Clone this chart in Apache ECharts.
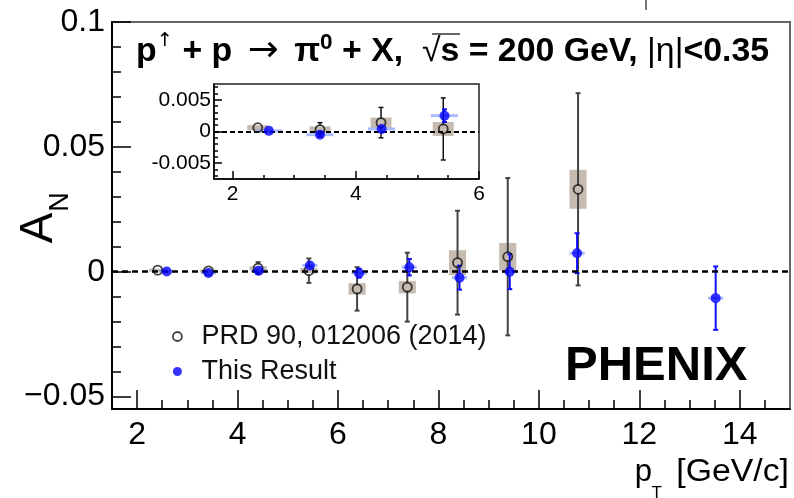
<!DOCTYPE html>
<html><head><meta charset="utf-8">
<script src="https://cdn.jsdelivr.net/npm/echarts@6/dist/echarts.min.js"></script>
<style>html,body{margin:0;padding:0;background:#fff}#c{width:794px;height:498px}</style>
</head><body><div id="c"></div>
<script>
// ---- data ----
const prdX    = [2.41, 3.42, 4.41, 5.42, 6.38, 7.38, 8.38, 9.38, 10.78];
const prdY    = [0.0006, 0.0003, 0.0014, 0.0004, -0.0069, -0.0062, 0.0036, 0.0060, 0.0330];
const prdStat = [0.0003, 0.0011, 0.0024, 0.0049, 0.0087, 0.0138, 0.0208, 0.0315, 0.0385];
const prdSys  = [0.0004, 0.0005, 0.0008, 0.0011, 0.0023, 0.0025, 0.0050, 0.0055, 0.0078];
const newX    = [2.59, 3.42, 4.42, 5.44, 6.42, 7.42, 8.42, 9.42, 10.76, 13.52];
const newY    = [0.0001, -0.0005, 0.0004, 0.0025, -0.0006, 0.0018, -0.0024, 0.0000, 0.0074, -0.0106];
const newStat = [0.0003, 0.0004, 0.0006, 0.0010, 0.0018, 0.0033, 0.0048, 0.0070, 0.0080, 0.0127];
const newSys  = [0.0001, 0.0001, 0.0001, 0.0002, 0.0002, 0.0003, 0.0003, 0.0004, 0.0004, 0.0005];

const mainXTicks  = [2, 4, 6, 8, 10, 12, 14];
const mainXMinor  = [2.5, 3, 3.5, 4.5, 5, 5.5, 6.5, 7, 7.5, 8.5, 9, 9.5, 10.5, 11, 11.5, 12.5, 13, 13.5, 14.5];
const mainYTicks  = [-0.05, 0, 0.05, 0.1];
const mainYMinor  = [-0.04, -0.03, -0.02, -0.01, 0.01, 0.02, 0.03, 0.04, 0.06, 0.07, 0.08, 0.09];
const insetXTicks = [2, 4, 6];
const insetXMinor = [2.5, 3, 3.5, 4.5, 5, 5.5];
const insetYTicks = [-0.005, 0, 0.005];
const insetYMinor = [-0.007, -0.006, -0.004, -0.003, -0.002, -0.001, 0.001, 0.002, 0.003, 0.004, 0.006, 0.007];
const insetMaxX = 6;

const nameOld = 'PRD 90, 012006 (2014)';
const nameNew = 'This Result';

// ---- helpers ----
const FF = "'Liberation Sans', Arial, Helvetica, sans-serif";
const zip = (xs, ys, es) => xs.map((x, i) => [x, ys[i], es[i]]);
const oldStatData = zip(prdX, prdY, prdStat), oldSysData = zip(prdX, prdY, prdSys);
const newStatData = zip(newX, newY, newStat), newSysData = zip(newX, newY, newSys);
const inInset = d => d[0] < insetMaxX;

function errRender(color, width, gap, cap) {
  return function (params, api) {
    const x = api.value(0), y = api.value(1), e = api.value(2);
    const p = api.coord([x, y]);
    const t = api.coord([x, y + e]);
    const b = api.coord([x, y - e]);
    const st = { stroke: color, lineWidth: width };
    const ch = [];
    if (p[1] - gap > t[1]) {
      ch.push({ type: 'line', shape: { x1: p[0], y1: t[1], x2: p[0], y2: p[1] - gap }, style: st });
      ch.push({ type: 'line', shape: { x1: p[0] - cap, y1: t[1], x2: p[0] + cap, y2: t[1] }, style: st });
    }
    if (b[1] > p[1] + gap) {
      ch.push({ type: 'line', shape: { x1: p[0], y1: p[1] + gap, x2: p[0], y2: b[1] }, style: st });
      ch.push({ type: 'line', shape: { x1: p[0] - cap, y1: b[1], x2: p[0] + cap, y2: b[1] }, style: st });
    }
    return { type: 'group', children: ch };
  };
}
function boxRender(halfW, fill, minH) {
  return function (params, api) {
    const x = api.value(0), y = api.value(1), s = api.value(2);
    const a = api.coord([x - halfW, y + s]);
    const b = api.coord([x + halfW, y - s]);
    let y0 = a[1], h = b[1] - a[1];
    if (h < minH) { y0 = (a[1] + b[1]) / 2 - minH / 2; h = minH; }
    return { type: 'rect', shape: { x: a[0], y: y0, width: b[0] - a[0], height: h }, style: { fill: fill } };
  };
}
const zeroLine = (w, dash) => ({
  silent: true, symbol: 'none', label: { show: false },
  lineStyle: { color: '#000', type: dash, width: w },
  data: [{ yAxis: 0 }]
});

function seriesSet(xi, yi, filt, opt) {
  return [
    { type: 'custom', xAxisIndex: xi, yAxisIndex: yi, z: 2, clip: true,
      renderItem: boxRender(0.17, 'rgba(150,132,112,0.55)', 3), data: oldSysData.filter(filt),
      encode: { x: 0, y: 1 }, markLine: zeroLine(opt.zw, opt.dash) },
    { type: 'custom', xAxisIndex: xi, yAxisIndex: yi, z: 2, clip: true,
      renderItem: boxRender(opt.bhw, 'rgba(90,120,255,0.5)', 3), data: newSysData.filter(filt),
      encode: { x: 0, y: 1 } },
    { type: 'custom', xAxisIndex: xi, yAxisIndex: yi, z: 4, clip: true,
      renderItem: errRender(opt.ec, opt.ew, 4, 2.5), data: oldStatData.filter(filt),
      encode: { x: 0, y: 1 } },
    { type: 'custom', xAxisIndex: xi, yAxisIndex: yi, z: 4, clip: true,
      renderItem: errRender('#1010ff', 2, 4, 2.5), data: newStatData.filter(filt),
      encode: { x: 0, y: 1 } },
    { type: 'scatter', name: nameOld, xAxisIndex: xi, yAxisIndex: yi, z: 5,
      symbol: 'circle', symbolSize: 9, silent: true,
      itemStyle: { color: 'rgba(255,255,255,0)', borderColor: '#111', borderWidth: 1.8 },
      data: oldStatData.filter(filt).map(d => [d[0], d[1]]) },
    { type: 'scatter', name: nameNew, xAxisIndex: xi, yAxisIndex: yi, z: 5,
      symbol: 'circle', symbolSize: 10, silent: true,
      itemStyle: { color: '#0000ff' },
      data: newStatData.filter(filt).map(d => [d[0], d[1]]) }
  ];
}

const fmtMain = v => v === 0 ? '0' : (v < 0 ? '\u2212' + (+(-v).toFixed(3)) : String(+v.toFixed(3)));
const fmtInset = v => v === 0 ? '0' : (v < 0 ? '-' + (+(-v).toFixed(4)) : String(+v.toFixed(4)));

function axisPair(kind, gi, min, max, major, minor, majLen, minLen, lab, lineW) {
  const pos = kind === 'x' ? 'bottom' : 'left';
  return [
    { type: 'value', gridIndex: gi, min: min, max: max, position: pos, offset: 0,
      axisLine: { show: true, onZero: false, lineStyle: { color: '#000', width: lineW } },
      axisTick: { show: true, inside: true, length: majLen, customValues: major, lineStyle: { color: '#000', width: 1.5 } },
      axisLabel: Object.assign({ show: true, customValues: major, showMinLabel: true, showMaxLabel: true,
        color: '#000', fontFamily: FF }, lab),
      splitLine: { show: false }, minorTick: { show: false } },
    { type: 'value', gridIndex: gi, min: min, max: max, position: pos, offset: 0,
      axisLine: { show: false, onZero: false },
      axisTick: { show: true, inside: true, length: minLen, customValues: minor, lineStyle: { color: '#000', width: 1.5 } },
      axisLabel: { show: false },
      splitLine: { show: false } }
  ];
}

const chart = echarts.init(document.getElementById('c'), null, { renderer: 'canvas' });
const option = {
  backgroundColor: '#fff',
  animation: false,
  grid: [
    { left: 112, top: 22, width: 678, height: 387, show: true, borderColor: '#666', borderWidth: 2, backgroundColor: 'rgba(0,0,0,0)' },
    { left: 214, top: 84, width: 265, height: 95, show: true, borderColor: '#222', borderWidth: 1.5, backgroundColor: '#fff' }
  ],
  xAxis: [
    ...axisPair('x', 0, 1.5, 15, mainXTicks, mainXMinor, 19, 9, { fontSize: 32, margin: 10 }, 2),
    ...axisPair('x', 1, 1.7, 6, insetXTicks, insetXMinor, 8, 4, { fontSize: 21, margin: 5 }, 1.5)
  ],
  yAxis: [
    ...axisPair('y', 0, -0.055, 0.1, mainYTicks, mainYMinor, 19, 9, { fontSize: 32, margin: 7, formatter: fmtMain }, 2),
    ...axisPair('y', 1, -0.0075, 0.0075, insetYTicks, insetYMinor, 8, 4, { fontSize: 21, margin: 3, formatter: fmtInset }, 1.5)
  ],
  legend: {
    orient: 'vertical', left: 167, top: 318, itemWidth: 38, itemHeight: 9, itemGap: 8,
    selectedMode: false,
    textStyle: { fontSize: 27, fontFamily: FF, color: '#111' },
    data: [
      { name: nameOld, icon: 'circle', itemStyle: { color: 'rgba(255,255,255,0)', borderColor: '#111', borderWidth: 1.8 } },
      { name: nameNew, icon: 'circle', itemStyle: { color: '#0000ff' } }
    ]
  },
  series: [
    ...seriesSet(0, 0, () => true, { zw: 2.5, dash: [6, 4], ec: '#444', ew: 2, bhw: 0.15 }),
    ...seriesSet(2, 2, inInset, { zw: 2, dash: [5, 3], ec: '#111', ew: 1.5, bhw: 0.22 })
  ],
  graphic: [
    { type: 'text', x: 136, y: 52, scaleX: 1.025, z: 10, silent: true,
      style: {
        text: '{b|p}{u|\u2191}{b| + p }{a|\u2192}{b| \u03c0}{s|0}{b| + X,  }{r|\u221a}{b|s = 200 GeV, }{r||\u03b7|}{b|<0.35}',
        verticalAlign: 'middle', align: 'left',
        rich: {
          b: { fontFamily: FF, fontWeight: 'bold', fontSize: 33, lineHeight: 40, fill: '#000' },
          r: { fontFamily: FF, fontWeight: 'normal', fontSize: 33, lineHeight: 40, fill: '#000' },
          a: { fontFamily: "'DejaVu Sans', sans-serif", fontWeight: 'normal', fontSize: 36, lineHeight: 40, fill: '#000', padding: [0, 6, 0, 6] },
          u: { fontFamily: "'DejaVu Sans', sans-serif", fontWeight: 'normal', fontSize: 19, lineHeight: 24, verticalAlign: 'top', fill: '#000' },
          s: { fontFamily: FF, fontWeight: 'bold', fontSize: 22, lineHeight: 28, verticalAlign: 'top', fill: '#000' }
        }
      } },
    { type: 'line', z: 10, silent: true, shape: { x1: 432, y1: 34, x2: 460, y2: 34 }, style: { stroke: '#333', lineWidth: 1.5 } },
    { type: 'text', x: 565, y: 366, z: 10, silent: true,
      style: { text: 'PHENIX', fontFamily: FF, fontWeight: 'bold', fontSize: 49, fill: '#000', align: 'left', verticalAlign: 'middle' } },
    { type: 'text', x: 39, y: 228, rotation: Math.PI / 2, z: 10, silent: true,
      style: { text: 'A', fontFamily: FF, fontSize: 46, fill: '#000', align: 'center', verticalAlign: 'middle' } },
    { type: 'text', x: 61, y: 202, rotation: Math.PI / 2, z: 10, silent: true,
      style: { text: 'N', fontFamily: FF, fontSize: 27, fill: '#000', align: 'center', verticalAlign: 'middle' } },
    { type: 'text', x: 789, y: 472, scaleX: 1.09, z: 10, silent: true,
      style: { text: '[GeV/c]', fontFamily: FF, fontSize: 31, fill: '#000', align: 'right', verticalAlign: 'middle' } },
    { type: 'text', x: 662, y: 493, z: 10, silent: true,
      style: { text: 'T', fontFamily: FF, fontSize: 17, fill: '#000', align: 'right', verticalAlign: 'middle' } },
    { type: 'text', x: 652, y: 472, z: 10, silent: true,
      style: { text: 'p', fontFamily: FF, fontSize: 31, fill: '#000', align: 'right', verticalAlign: 'middle' } },
    { type: 'line', z: 10, silent: true, shape: { x1: 646, y1: 0, x2: 646, y2: 10 }, style: { stroke: '#444', lineWidth: 1.5 } }
  ]
};
chart.setOption(option);
</script></body></html>
